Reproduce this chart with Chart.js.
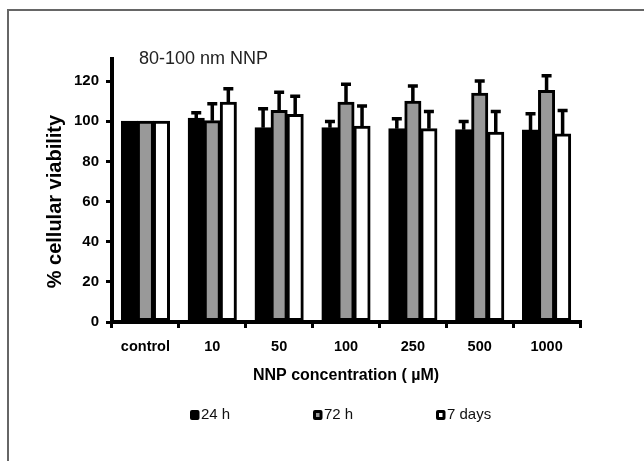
<!DOCTYPE html>
<html>
<head>
<meta charset="utf-8">
<title>NNP cellular viability</title>
<script src="https://cdn.jsdelivr.net/npm/chart.js@4"></script>
<style>
  html, body { margin: 0; padding: 0; background: #fff; }
  canvas { display: block; }
</style>
</head>
<body>
<canvas id="viabilityChart" width="644" height="461"></canvas>
<script>
// ── Data ─────────────────────────────────────────────────────
const categories = ['control', '10', '50', '100', '250', '500', '1000'];
const seriesNames = ['24 h', '72 h', '7 days'];
const viability24h = [100, 101.5, 96.7, 96.7, 96.2, 95.8, 95.6];
const viability72h = [100, 100.3, 105.3, 109.5, 110, 114, 115.3];
const viability7d  = [100, 109.5, 103.3, 97.5, 96.2, 94.5, 93.7];
const error24h = [0, 2.7, 9.5, 3.2, 5.0, 4.1, 8.1];
const error72h = [0, 8.4, 9.2, 8.9, 7.5, 6.0, 7.4];
const error7d  = [0, 6.7, 9.2, 10.1, 8.7, 10.4, 11.7];
const yTicks = [0, 20, 40, 60, 80, 100, 120];
const chartTitle = '80-100 nm NNP';

const FONT = "Arial, 'Liberation Sans', sans-serif";
const fills = ['#000000', '#999999', '#ffffff'];
const errors = [error24h, error72h, error7d];

// ── Plugins ──────────────────────────────────────────────────
const framePlugin = {
    id: 'frame',
    beforeDraw(chart) {
        const ctx = chart.ctx;
        ctx.save();
        ctx.strokeStyle = '#666';
        ctx.lineWidth = 2;
        ctx.beginPath();
        ctx.moveTo(8, chart.height);
        ctx.lineTo(8, 10);
        ctx.lineTo(chart.width, 10);
        ctx.stroke();
        ctx.restore();
    }
};

const errorBarPlugin = {
    id: 'errorBars',
    afterDatasetsDraw(chart) {
        const ctx = chart.ctx;
        const y = chart.scales.y;
        ctx.save();
        ctx.strokeStyle = '#000';
        ctx.lineWidth = 3.5;
        chart.data.datasets.forEach((ds, i) => {
            const meta = chart.getDatasetMeta(i);
            meta.data.forEach((bar, j) => {
                const err = errors[i][j];
                if (!err) return;
                const base = y.getPixelForValue(ds.data[j]);
                const top = y.getPixelForValue(ds.data[j] + err);
                ctx.beginPath();
                ctx.moveTo(bar.x, base);
                ctx.lineTo(bar.x, top);
                ctx.moveTo(bar.x - 5, top);
                ctx.lineTo(bar.x + 5, top);
                ctx.stroke();
            });
        });
        ctx.restore();
    }
};

const labelsPlugin = {
    id: 'extraLabels',
    afterDraw(chart) {
        const ctx = chart.ctx;
        const area = chart.chartArea;
        ctx.save();
        // title inside the plot
        ctx.fillStyle = '#222';
        ctx.font = `18px ${FONT}`;
        ctx.textBaseline = 'middle';
        ctx.textAlign = 'left';
        ctx.fillText(chartTitle, area.left + 27, area.top);

        // legend
        ctx.font = `15px ${FONT}`;
        const legendY = 415;
        seriesNames.forEach((name, i) => {
            const x = area.left + 78 + i * 123;
            ctx.fillStyle = '#000';
            ctx.beginPath();
            ctx.roundRect(x, legendY - 5, 9.5, 10, 2);
            ctx.fill();
            ctx.fillStyle = fills[i];
            ctx.fillRect(x + 3, legendY - 2, 3.5, 4);
            ctx.fillStyle = '#111';
            ctx.fillText(name, x + 11, legendY);
        });
        ctx.restore();
    }
};

// ── Chart ────────────────────────────────────────────────────
new Chart(document.getElementById('viabilityChart'), {
    type: 'bar',
    data: {
        labels: categories,
        datasets: [viability24h, viability72h, viability7d].map((values, i) => ({
            label: seriesNames[i],
            data: values,
            backgroundColor: fills[i],
            borderColor: '#000',
            borderWidth: 3,
            borderSkipped: false,
            inflateAmount: 0.5,
            categoryPercentage: 0.72,
            barPercentage: 1
        }))
    },
    options: {
        responsive: false,
        animation: false,
        layout: { padding: { top: 59, right: 64, bottom: 69, left: 0 } },
        plugins: {
            legend: { display: false },
            tooltip: { enabled: false }
        },
        scales: {
            x: {
                grid: { drawOnChartArea: false, color: '#000', lineWidth: 3, tickLength: 6 },
                border: { color: '#000', width: 4 },
                ticks: {
                    color: '#000', padding: 10, maxRotation: 0, autoSkip: false,
                    font: { family: FONT, size: 14.5, weight: 'bold' }
                },
                title: {
                    display: true,
                    text: 'NNP concentration ( µM)',
                    color: '#000',
                    padding: { top: 0, bottom: 7 },
                    font: { family: FONT, size: 16, weight: 'bold' }
                },
                afterFit: scale => { scale.height = 70; }
            },
            y: {
                min: 0,
                max: 131,
                grid: { drawOnChartArea: false, color: '#000', lineWidth: 3, tickLength: 6 },
                border: { color: '#000', width: 4 },
                ticks: {
                    color: '#000', padding: 7,
                    font: { family: FONT, size: 15, weight: 'bold' }
                },
                afterBuildTicks: scale => { scale.ticks = yTicks.map(v => ({ value: v })); },
                title: {
                    display: true,
                    text: '% cellular viability    ',
                    color: '#000',
                    padding: { top: 43, bottom: 0 },
                    font: { family: FONT, size: 20, weight: 'bold' }
                },
                afterFit: scale => { scale.width = 112; }
            }
        }
    },
    plugins: [framePlugin, errorBarPlugin, labelsPlugin]
});
</script>
</body>
</html>
